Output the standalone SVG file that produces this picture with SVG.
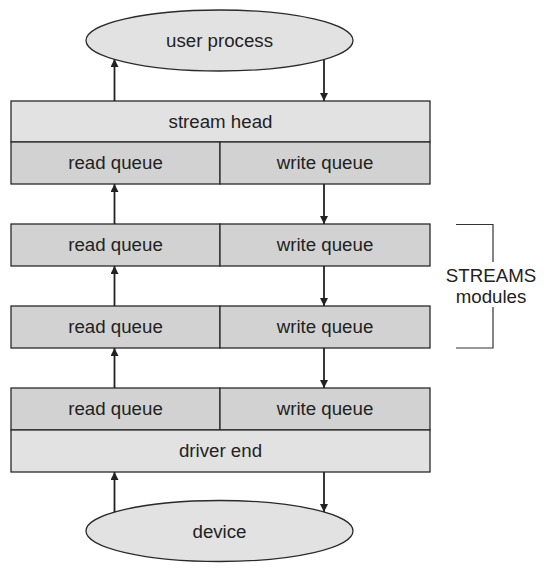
<svg xmlns="http://www.w3.org/2000/svg" width="549" height="572" viewBox="0 0 549 572">
<style>
.lt{fill:#e2e2e2;stroke:#2a2a2a;stroke-width:1.3}
.dk{fill:#d2d2d2;stroke:#2a2a2a;stroke-width:1.3}
.t{font-family:"Liberation Sans",Arial,sans-serif;font-size:18.7px;fill:#222;text-anchor:middle}
.c{stroke:#222;stroke-width:1.8;fill:none}
.b{stroke:#333;stroke-width:1.2;fill:none}
</style>
<defs>
<marker id="ah" viewBox="0 0 10 10" refX="10" refY="5" markerWidth="8" markerHeight="8" markerUnits="userSpaceOnUse" orient="auto">
<path d="M0,0 L10,5 L0,10 z" fill="#222"/>
</marker>
</defs>
<rect width="549" height="572" fill="#fff"/>
<g id="user-process">
<ellipse class="lt" cx="219.5" cy="40.5" rx="133.5" ry="30.5"/>
<text class="t" x="219.5" y="47">user process</text>
</g>
<g id="stream-head">
<rect class="lt" x="11" y="101" width="419" height="41"/>
<text class="t" x="220.5" y="128">stream head</text>
<rect class="dk" x="11" y="142" width="209" height="42"/>
<rect class="dk" x="220" y="142" width="210" height="42"/>
<text class="t" x="115.5" y="169">read queue</text>
<text class="t" x="325" y="169">write queue</text>
</g>
<g id="module-1">
<rect class="dk" x="11" y="224" width="209" height="42"/>
<rect class="dk" x="220" y="224" width="210" height="42"/>
<text class="t" x="115.5" y="251">read queue</text>
<text class="t" x="325" y="251">write queue</text>
</g>
<g id="module-2">
<rect class="dk" x="11" y="306" width="209" height="42"/>
<rect class="dk" x="220" y="306" width="210" height="42"/>
<text class="t" x="115.5" y="333">read queue</text>
<text class="t" x="325" y="333">write queue</text>
</g>
<g id="driver-end">
<rect class="dk" x="11" y="388" width="209" height="42"/>
<rect class="dk" x="220" y="388" width="210" height="42"/>
<text class="t" x="115.5" y="415">read queue</text>
<text class="t" x="325" y="415">write queue</text>
<rect class="lt" x="11" y="430" width="419" height="42"/>
<text class="t" x="220.5" y="457">driver end</text>
</g>
<g id="device">
<ellipse class="lt" cx="219.5" cy="531" rx="133.5" ry="30.5"/>
<text class="t" x="219.5" y="538">device</text>
</g>
<g id="streams-modules">
<path class="b" d="M456,224.5 H493 V262 M493,307 V348 H456"/>
<text class="t" x="491" y="282">STREAMS</text>
<text class="t" x="491" y="303">modules</text>
</g>
<g id="connectors">
<line class="c" x1="114.5" y1="101" x2="114.5" y2="59" marker-end="url(#ah)"/>
<line class="c" x1="324" y1="60" x2="324" y2="101" marker-end="url(#ah)"/>
<line class="c" x1="114.5" y1="224" x2="114.5" y2="184" marker-end="url(#ah)"/>
<line class="c" x1="324" y1="184" x2="324" y2="224" marker-end="url(#ah)"/>
<line class="c" x1="114.5" y1="306" x2="114.5" y2="266" marker-end="url(#ah)"/>
<line class="c" x1="324" y1="266" x2="324" y2="306" marker-end="url(#ah)"/>
<line class="c" x1="114.5" y1="388" x2="114.5" y2="348" marker-end="url(#ah)"/>
<line class="c" x1="324" y1="348" x2="324" y2="388" marker-end="url(#ah)"/>
<line class="c" x1="114.5" y1="512" x2="114.5" y2="472" marker-end="url(#ah)"/>
<line class="c" x1="324" y1="472" x2="324" y2="512" marker-end="url(#ah)"/>
</g>
</svg>
